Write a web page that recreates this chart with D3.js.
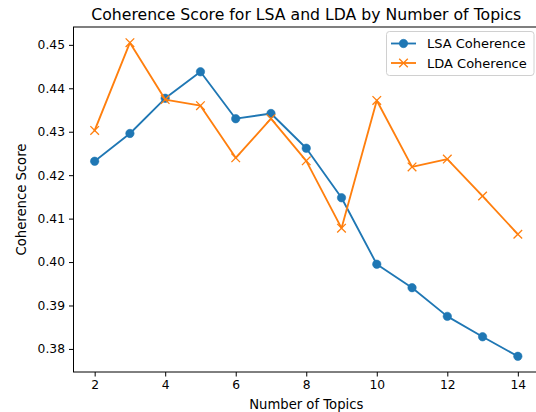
<!DOCTYPE html>
<html>
<head>
<meta charset="utf-8">
<script src="https://cdn.jsdelivr.net/npm/d3@7"></script>
<style>
  html, body { margin: 0; padding: 0; background: #fff; }
  svg { display: block; font-family: "DejaVu Sans", sans-serif; }
</style>
</head>
<body>
<svg id="chart" width="536" height="412"></svg>
<script>
// Number of topics tried for each model
const topics = [2, 3, 4, 5, 6, 7, 8, 9, 10, 11, 12, 13, 14];
// Coherence scores per topic count
const lsaCoherence = [0.4232, 0.4296, 0.4377, 0.4438, 0.4330, 0.4342, 0.4262, 0.4148, 0.3995, 0.3941, 0.3875, 0.3828, 0.3783];
const ldaCoherence = [0.4303, 0.4505, 0.4374, 0.4360, 0.4240, 0.4330, 0.4233, 0.4078, 0.4372, 0.4219, 0.4237, 0.4152, 0.4064];
const xTicks = [2, 4, 6, 8, 10, 12, 14];
const yTicks = [0.38, 0.39, 0.40, 0.41, 0.42, 0.43, 0.44, 0.45];

const svg = d3.select("#chart");
const plot = { left: 73.5, top: 27, right: 539, bottom: 372 };

// 5% padding around the data, like matplotlib's default margins
function padded(lo, hi) { const p = (hi - lo) * 0.05; return [lo - p, hi + p]; }
const allY = lsaCoherence.concat(ldaCoherence);
const x = d3.scaleLinear().domain(padded(d3.min(topics), d3.max(topics))).range([plot.left, plot.right]);
const y = d3.scaleLinear().domain(padded(d3.min(allY), d3.max(allY))).range([plot.bottom, plot.top]);

const tickFont = 12.3;
const labelFont = 13.2;
const legendFont = 13;

// Axes
const xAxis = svg.append("g")
  .attr("transform", `translate(0,${plot.bottom})`)
  .call(d3.axisBottom(x).tickValues(xTicks).tickFormat(d3.format("d")).tickSizeOuter(0).tickSize(4.5).tickPadding(4));
const yAxis = svg.append("g")
  .attr("transform", `translate(${plot.left},0)`)
  .call(d3.axisLeft(y).tickValues(yTicks).tickFormat(d3.format(".2f")).tickSizeOuter(0).tickSize(4.5).tickPadding(4));
[xAxis, yAxis].forEach(g => {
  g.select(".domain").remove();
  g.selectAll(".tick line").attr("stroke", "#000").attr("stroke-width", 1);
  g.selectAll(".tick text").attr("fill", "#000").attr("font-size", tickFont).attr("font-family", "DejaVu Sans");
});

// Frame
svg.append("rect")
  .attr("x", plot.left).attr("y", plot.top)
  .attr("width", plot.right - plot.left).attr("height", plot.bottom - plot.top)
  .attr("fill", "none").attr("stroke", "#000").attr("stroke-width", 1);

const series = [
  { name: "LSA Coherence", values: lsaCoherence, color: "#1f77b4", marker: "circle" },
  { name: "LDA Coherence", values: ldaCoherence, color: "#ff7f0e", marker: "x" }
];

const line = d3.line().x(d => x(d[0])).y(d => y(d[1]));

function drawMarker(g, type, cx, cy, color) {
  if (type === "circle") {
    g.append("circle").attr("cx", cx).attr("cy", cy).attr("r", 4.2)
      .attr("fill", color).attr("stroke", color).attr("stroke-width", 0.6);
  } else {
    const s = 4.3;
    g.append("path")
      .attr("d", `M${cx - s},${cy - s}L${cx + s},${cy + s}M${cx - s},${cy + s}L${cx + s},${cy - s}`)
      .attr("stroke", color).attr("stroke-width", 1.3).attr("fill", "none");
  }
}

series.forEach(s => {
  const pts = topics.map((t, i) => [t, s.values[i]]);
  const g = svg.append("g");
  g.append("path").datum(pts).attr("d", line)
    .attr("fill", "none").attr("stroke", s.color).attr("stroke-width", 1.85)
    .attr("stroke-linejoin", "round").attr("stroke-linecap", "square");
  pts.forEach(p => drawMarker(g, s.marker, x(p[0]), y(p[1]), s.color));
});

// Legend
const lg = svg.append("g");
lg.append("rect").attr("x", 386.5).attr("y", 31.5).attr("width", 147.5).attr("height", 44).attr("rx", 3)
  .attr("fill", "#fff").attr("fill-opacity", 0.8).attr("stroke", "#d0d0d0").attr("stroke-width", 1);
series.forEach((s, i) => {
  const cy = 43.5 + i * 19.5;
  lg.append("line").attr("x1", 391).attr("x2", 416).attr("y1", cy).attr("y2", cy)
    .attr("stroke", s.color).attr("stroke-width", 1.85);
  drawMarker(lg, s.marker, 403.5, cy, s.color);
  lg.append("text").attr("x", 427).attr("y", cy).attr("dy", "0.36em")
    .attr("font-size", legendFont).attr("fill", "#000").text(s.name);
});

// Title and axis labels
svg.append("text").attr("x", (plot.left + plot.right) / 2).attr("y", 20)
  .attr("text-anchor", "middle").attr("font-size", 15.7).attr("fill", "#000")
  .text("Coherence Score for LSA and LDA by Number of Topics");
svg.append("text").attr("x", (plot.left + plot.right) / 2).attr("y", 409)
  .attr("text-anchor", "middle").attr("font-size", labelFont).attr("fill", "#000")
  .text("Number of Topics");
svg.append("text").attr("transform", `translate(26,${(plot.top + plot.bottom) / 2}) rotate(-90)`)
  .attr("text-anchor", "middle").attr("font-size", labelFont).attr("fill", "#000")
  .text("Coherence Score");
</script>
</body>
</html>
